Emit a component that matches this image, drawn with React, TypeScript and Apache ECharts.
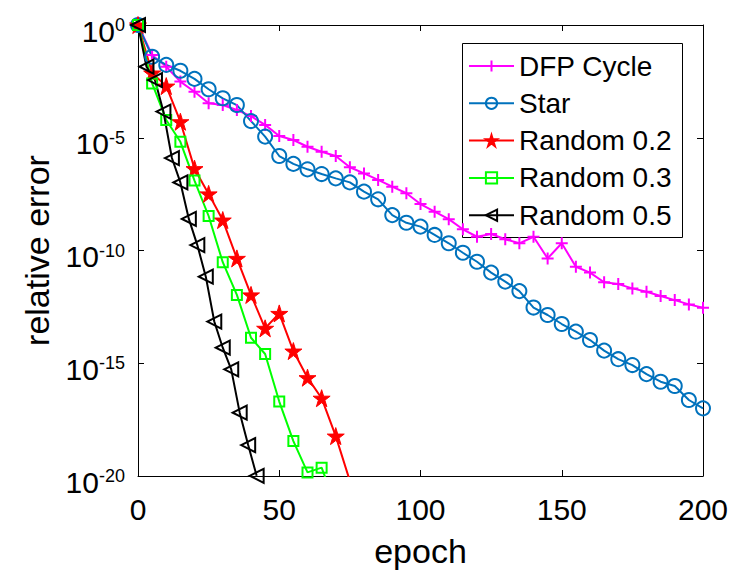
import { useEffect, useRef } from "react";
import * as echarts from "echarts";

// Epochs (x values)
const epochsEvery5 = [
  0, 5, 10, 15, 20, 25, 30, 35, 40, 45, 50, 55, 60, 65, 70, 75, 80, 85, 90, 95, 100,
  105, 110, 115, 120, 125, 130, 135, 140, 145, 150, 155, 160, 165, 170, 175, 180, 185, 190, 195, 200,
];
const epochsRandom02 = [0, 5, 10, 15, 20, 25, 30, 35, 40, 45, 50, 55, 60, 65, 70, 75];
const epochsRandom03 = [0, 5, 10, 15, 20, 25, 30, 35, 40, 45, 50, 55, 60, 65, 70];
const epochsRandom05 = [0, 3, 6, 9, 12, 15, 18, 21, 24, 27, 30, 33, 36, 39, 42];

// Relative error, stored as log10 exponents
const dfpCycleExp = [
  0, -1.33, -1.85, -2.51, -2.96, -3.47, -3.55, -3.77, -4.04, -4.43, -4.92, -5.1, -5.4, -5.62, -5.81,
  -6.31, -6.58, -6.87, -7.17, -7.46, -7.94, -8.28, -8.61, -9.06, -9.39, -9.27, -9.5, -9.68, -9.39,
  -10.35, -9.68, -10.72, -10.98, -11.41, -11.49, -11.68, -11.83, -12.02, -12.2, -12.39, -12.54,
];
const starExp = [
  0, -1.41, -1.77, -2.03, -2.39, -2.85, -3.25, -3.55, -4.26, -4.95, -5.81, -6.16, -6.4, -6.61, -6.8,
  -6.98, -7.39, -7.73, -8.43, -8.77, -8.94, -9.31, -9.68, -10.1, -10.5, -10.98, -11.38, -11.8, -12.53,
  -12.86, -13.26, -13.6, -13.97, -14.44, -14.82, -15.08, -15.48, -15.82, -16.01, -16.63, -17.0,
];
const random02Exp = [
  0, -2.13, -2.71, -4.29, -6.37, -7.49, -8.65, -10.35, -11.97, -13.45, -12.79, -14.46, -15.64, -16.55,
  -18.23, -20.22,
];
const random03Exp = [
  0, -2.59, -4.21, -5.18, -6.9, -8.47, -10.52, -11.97, -13.87, -14.59, -16.7, -18.45, -19.84, -19.63,
  -21.3,
];
const random05Exp = [
  0, -1.85, -2.44, -3.84, -5.9, -6.98, -8.6, -9.76, -11.16, -13.15, -14.31, -15.27, -17.19, -18.63,
  -19.99,
];

const seriesNames = ["DFP Cycle", "Star", "Random 0.2", "Random 0.3", "Random 0.5"];
const xTickValues = [0, 50, 100, 150, 200];

const FONT = "'Liberation Sans', Arial, Helvetica, sans-serif";

const PLUS = "path://M0,-1L0,1M-1,0L1,0";
const STAR =
  "path://M0,-1L0.2245,-0.309L0.951,-0.309L0.363,0.118L0.588,0.809L0,0.382L-0.588,0.809L-0.363,0.118L-0.951,-0.309L-0.2245,-0.309Z";
const LTRI = "path://M-1,0L1,-1L1,1Z";

function makeSeries(
  name: string,
  xs: number[],
  ys: number[],
  color: string,
  symbol: string,
  size: number,
  filled: boolean
) {
  return {
    name,
    type: "line",
    data: xs.map((x, i) => [x, ys[i]]),
    symbol,
    symbolSize: size,
    clip: true,
    lineStyle: { color, width: 2 },
    itemStyle: {
      color: filled ? color : "transparent",
      borderColor: color,
      borderWidth: filled ? 1 : 2,
    },
    emphasis: { disabled: true },
  };
}

export default function App() {
  const ref = useRef<HTMLDivElement>(null);
  useEffect(() => {
    if (!ref.current) return;
    const chart = echarts.init(ref.current, undefined, { renderer: "svg" });
    const axisCommon = {
      axisLine: { show: true, onZero: false, lineStyle: { color: "#000", width: 1 } },
      axisTick: { show: true, inside: true, length: 6, lineStyle: { color: "#000", width: 1 } },
      splitLine: { show: false },
    };
    chart.setOption({
      animation: false,
      backgroundColor: "#fff",
      textStyle: { fontFamily: FONT },
      grid: { left: 138, right: 39, top: 25, bottom: 103, containLabel: false },
      xAxis: [
        {
          type: "value",
          min: xTickValues[0],
          max: xTickValues[xTickValues.length - 1],
          interval: 50,
          position: "bottom",
          name: "epoch",
          nameLocation: "middle",
          nameGap: 58,
          nameTextStyle: { fontSize: 34, lineHeight: 34, color: "#000", fontFamily: FONT },
          axisLabel: { fontSize: 30, lineHeight: 30, color: "#000", margin: 18, fontFamily: FONT },
          ...axisCommon,
        },
        {
          type: "value",
          min: 0,
          max: 200,
          interval: 50,
          position: "top",
          axisLabel: { show: false },
          ...axisCommon,
        },
      ],
      yAxis: [
        {
          type: "value",
          min: -20,
          max: 0,
          interval: 5,
          position: "left",
          name: "relative error",
          nameLocation: "middle",
          nameGap: 84,
          nameTextStyle: { fontSize: 34, lineHeight: 34, color: "#000", fontFamily: FONT },
          axisLabel: {
            margin: 13,
            padding: [12, 0, 0, 0],
            formatter: (v: number) => `{b|10}{s|${Math.round(v)}}`,
            rich: {
              b: { fontSize: 30, lineHeight: 30, color: "#000", fontFamily: FONT },
              s: { fontSize: 18, lineHeight: 18, color: "#000", fontFamily: FONT, verticalAlign: "top" },
            },
          },
          ...axisCommon,
        },
        {
          type: "value",
          min: -20,
          max: 0,
          interval: 5,
          position: "right",
          axisLabel: { show: false },
          ...axisCommon,
        },
      ],
      legend: {
        orient: "vertical",
        left: 468,
        top: 52,
        padding: 0,
        itemWidth: 45,
        itemHeight: 14,
        itemGap: 9.3,
        z: 10,
        data: seriesNames,
        textStyle: { fontSize: 28, lineHeight: 28, color: "#000", fontFamily: FONT },
      },
      graphic: {
        elements: [
          {
            type: "rect",
            left: 462,
            top: 43,
            z: 1,
            shape: { width: 220, height: 194 },
            style: { fill: "#fff", stroke: "#000", lineWidth: 1 },
          },
        ],
      },
      series: [
        makeSeries(seriesNames[0], epochsEvery5, dfpCycleExp, "#FF00FF", PLUS, 12, false),
        makeSeries(seriesNames[1], epochsEvery5, starExp, "#0072BD", "circle", 14, false),
        makeSeries(seriesNames[2], epochsRandom02, random02Exp, "#FF0000", STAR, 17, true),
        makeSeries(seriesNames[3], epochsRandom03, random03Exp, "#00FF00", "rect", 10, false),
        makeSeries(seriesNames[4], epochsRandom05, random05Exp, "#000000", LTRI, 14, false),
      ],
    });
    return () => chart.dispose();
  }, []);
  return (
    <div
      ref={ref}
      style={{ position: "fixed", left: 0, top: 0, width: 742, height: 579, background: "#fff" }}
    />
  );
}
